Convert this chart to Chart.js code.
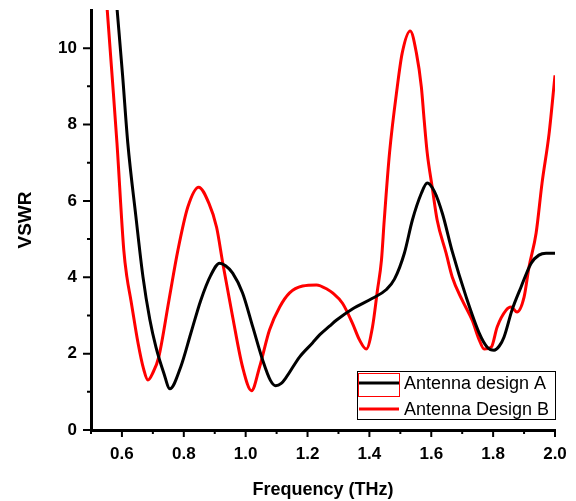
<!DOCTYPE html>
<html>
<head>
<meta charset="utf-8">
<script src="https://cdn.jsdelivr.net/npm/chart.js@4.4.1/dist/chart.umd.min.js"></script>
<style>
  body { margin: 0; background: #fff; }
  #wrap { width: 576px; height: 501px; }
</style>
</head>
<body>
<div id="wrap"><canvas id="myChart" width="576" height="501"></canvas></div>
<script>
// valores
const freqA = [0.584, 0.602, 0.619, 0.645, 0.668, 0.69, 0.71, 0.735, 0.755, 0.79, 0.823, 0.855, 0.887, 0.916, 0.935, 0.958, 0.99, 1.023, 1.055, 1.08, 1.097, 1.115, 1.132, 1.174, 1.216, 1.239, 1.271, 1.294, 1.345, 1.41, 1.455, 1.481, 1.513, 1.539, 1.568, 1.587, 1.61, 1.636, 1.668, 1.713, 1.755, 1.781, 1.803, 1.82, 1.835, 1.861, 1.89, 1.923, 1.948, 1.971, 2.0]
const vswrA = [11.05, 9.3, 7.51, 5.6, 4.01, 2.9, 2.17, 1.5, 1.08, 1.65, 2.54, 3.4, 4.05, 4.37, 4.3, 4.11, 3.59, 2.7, 1.83, 1.3, 1.16, 1.22, 1.39, 1.91, 2.28, 2.49, 2.72, 2.88, 3.17, 3.45, 3.68, 3.95, 4.63, 5.5, 6.2, 6.47, 6.25, 5.67, 4.67, 3.48, 2.54, 2.17, 2.09, 2.2, 2.43, 3.14, 3.74, 4.37, 4.58, 4.63, 4.63]

const freqB = [0.552, 0.568, 0.584, 0.606, 0.616, 0.629, 0.652, 0.67, 0.684, 0.7, 0.719, 0.752, 0.781, 0.813, 0.848, 0.881, 0.906, 0.926, 0.958, 0.99, 1.019, 1.045, 1.077, 1.11, 1.142, 1.184, 1.229, 1.265, 1.281, 1.313, 1.345, 1.368, 1.39, 1.41, 1.426, 1.439, 1.448, 1.465, 1.49, 1.506, 1.532, 1.552, 1.568, 1.577, 1.587, 1.603, 1.619, 1.648, 1.668, 1.7, 1.732, 1.755, 1.771, 1.794, 1.813, 1.842, 1.858, 1.877, 1.9, 1.916, 1.939, 1.958, 1.981, 2.0]
const vswrB = [11.05, 9.3, 7.51, 4.71, 4.01, 3.4, 2.28, 1.6, 1.31, 1.5, 1.91, 3.4, 4.71, 5.84, 6.36, 5.94, 5.31, 4.37, 2.96, 1.65, 1.03, 1.65, 2.62, 3.22, 3.59, 3.77, 3.8, 3.68, 3.59, 3.32, 2.8, 2.36, 2.12, 2.7, 3.66, 4.45, 5.5, 7.25, 8.98, 9.87, 10.45, 9.87, 8.98, 8.12, 7.25, 6.36, 5.5, 4.63, 4.0, 3.4, 2.88, 2.36, 2.12, 2.17, 2.7, 3.14, 3.22, 3.09, 3.48, 4.27, 5.16, 6.46, 7.77, 9.29]

const nomes = ['Antenna design A', 'Antenna Design B']
const cores = ['#000000', '#ff0000']

const xTicks = [0.6, 0.8, 1.0, 1.2, 1.4, 1.6, 1.8, 2.0]
const xMinor = [0.5, 0.7, 0.9, 1.1, 1.3, 1.5, 1.7, 1.9]
const yTicks = [0, 2, 4, 6, 8, 10]
const yMinor = [1, 3, 5, 7, 9]

function pontos(xs, ys){
  return xs.map((x, i) => ({x: x, y: ys[i]}))
}

// marcas dos eixos (maiores e menores)
const marcas = {
  id: 'marcas',
  afterDraw(chart){
    const ctx = chart.ctx
    const xs = chart.scales.x
    const ys = chart.scales.y
    const area = chart.chartArea
    ctx.save()
    ctx.strokeStyle = '#000'
    ctx.lineWidth = 2
    ctx.beginPath()
    xTicks.forEach(v => { const p = xs.getPixelForValue(v); ctx.moveTo(p, area.bottom); ctx.lineTo(p, area.bottom + 7) })
    xMinor.forEach(v => { const p = xs.getPixelForValue(v); ctx.moveTo(p, area.bottom); ctx.lineTo(p, area.bottom + 4) })
    yTicks.forEach(v => { const p = ys.getPixelForValue(v); ctx.moveTo(area.left, p); ctx.lineTo(area.left - 8, p) })
    yMinor.forEach(v => { const p = ys.getPixelForValue(v); ctx.moveTo(area.left, p); ctx.lineTo(area.left - 4, p) })
    ctx.stroke()
    ctx.restore()
  }
}

// legenda dentro da area do grafico
const legenda = {
  id: 'legenda',
  afterDraw(chart){
    const ctx = chart.ctx
    const area = chart.chartArea
    const w = 198, h = 48
    const x0 = area.right - w, y0 = area.bottom - 11 - h
    ctx.save()
    ctx.fillStyle = '#fff'
    ctx.fillRect(x0, y0, w, h)
    ctx.strokeStyle = '#000'
    ctx.lineWidth = 1
    ctx.strokeRect(x0 + 0.5, y0 + 0.5, w, h)
    ctx.font = '18px Arial, "Liberation Sans", sans-serif'
    ctx.textBaseline = 'middle'
    chart.data.datasets.forEach((ds, i) => {
      const yy = y0 + 12 + i * 26
      ctx.strokeStyle = ds.borderColor
      ctx.lineWidth = 3
      ctx.beginPath()
      ctx.moveTo(x0 + 2, yy)
      ctx.lineTo(x0 + 42, yy)
      ctx.stroke()
      ctx.fillStyle = '#000'
      ctx.fillText(ds.label, x0 + 47, yy + 1)
    })
    // retangulo vermelho em volta da primeira amostra
    ctx.strokeStyle = '#ff0000'
    ctx.lineWidth = 1
    ctx.strokeRect(x0 + 1.5, y0 + 2.5, 41, 23)
    ctx.restore()
  }
}

const ctx = document.getElementById('myChart')

const data = {
  datasets: [
    {
      label: nomes[0],
      data: pontos(freqA, vswrA),
      borderColor: cores[0],
      borderWidth: 3,
      pointRadius: 0,
      cubicInterpolationMode: 'monotone',
      fill: false
    },
    {
      label: nomes[1],
      data: pontos(freqB, vswrB),
      borderColor: cores[1],
      borderWidth: 3,
      pointRadius: 0,
      cubicInterpolationMode: 'monotone',
      fill: false
    }
  ]
}

const config = {
  type: 'line',
  data: data,
  options: {
    responsive: false,
    animation: false,
    devicePixelRatio: 1,
    layout: { padding: { top: 10, right: 21, left: 0, bottom: 0 } },
    plugins: {
      legend: { display: false },
      tooltip: { enabled: false }
    },
    scales: {
      x: {
        type: 'linear',
        min: 0.5,
        max: 2.0,
        afterFit(scale){ scale.height = 71; scale.paddingLeft = 0; scale.paddingRight = 0 },
        afterBuildTicks(scale){ scale.ticks = xTicks.map(v => ({value: v})) },
        grid: { display: false, drawTicks: false },
        border: { display: true, color: '#000', width: 3 },
        ticks: {
          padding: 14,
          color: '#000',
          font: { family: 'Arial, "Liberation Sans", sans-serif', size: 17, weight: 'bold' },
          callback: v => Number(v).toFixed(1)
        },
        title: {
          display: true,
          text: 'Frequency (THz)',
          color: '#000',
          font: { family: 'Arial, "Liberation Sans", sans-serif', size: 18, weight: 'bold' },
          padding: { top: 0, bottom: 0 }
        }
      },
      y: {
        type: 'linear',
        min: 0,
        max: 11,
        afterFit(scale){ scale.width = 91; scale.paddingTop = 0; scale.paddingBottom = 0 },
        afterBuildTicks(scale){ scale.ticks = yTicks.map(v => ({value: v})) },
        grid: { display: false, drawTicks: false },
        border: { display: true, color: '#000', width: 3 },
        ticks: {
          padding: 14,
          color: '#000',
          font: { family: 'Arial, "Liberation Sans", sans-serif', size: 17, weight: 'bold' },
          callback: v => String(v)
        },
        title: {
          display: true,
          text: 'VSWR',
          color: '#000',
          font: { family: 'Arial, "Liberation Sans", sans-serif', size: 19, weight: 'bold' },
          padding: { top: 14, bottom: 0 }
        }
      }
    }
  },
  plugins: [marcas, legenda]
}

const myChart = new Chart(ctx, config)
</script>
</body>
</html>
